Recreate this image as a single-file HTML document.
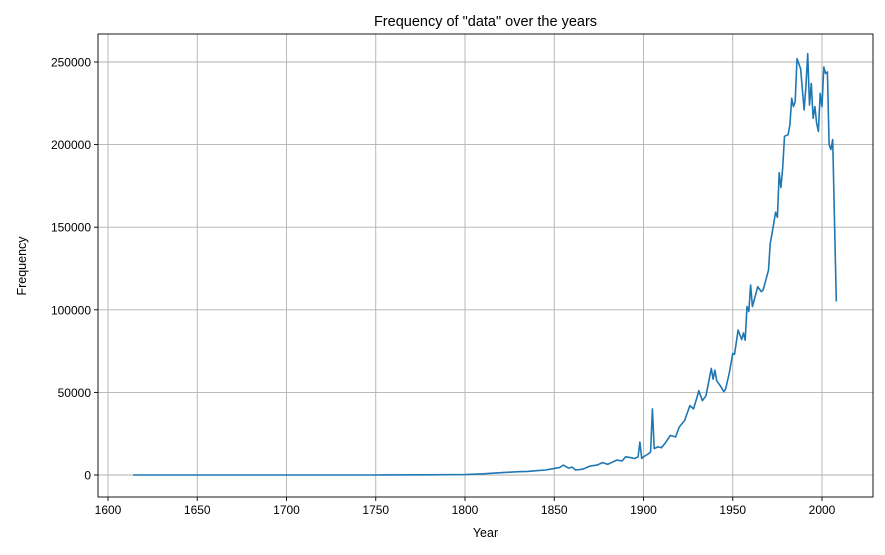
<!DOCTYPE html>
<html><head><meta charset="utf-8"><style>
body{margin:0;background:#fff;font-family:"Liberation Sans","DejaVu Sans",sans-serif;}
</style></head><body>
<svg id="chart" width="885" height="550" viewBox="0 0 885 550" xmlns="http://www.w3.org/2000/svg" font-family="Liberation Sans, DejaVu Sans, sans-serif"></svg>
<script>
const years=[1614,1650,1700,1750,1780,1800,1810,1820,1825,1830,1835,1840,1845,1850,1853,1855,1858,1860,1862,1866,1870,1874,1877,1880,1885,1888,1890,1893,1895,1897,1898,1899,1900,1903,1904,1905,1906,1908,1910,1912,1915,1918,1920,1923,1926,1928,1930,1931,1933,1935,1938,1939,1940,1941,1943,1945,1946,1948,1950,1951,1953,1955,1956,1957,1958,1959,1960,1961,1963,1964,1966,1967,1969,1970,1971,1972,1974,1975,1976,1977,1978,1979,1981,1982,1983,1984,1985,1986,1988,1990,1991,1992,1993,1994,1995,1996,1997,1998,1999,2000,2001,2002,2003,2004,2005,2006,2008];
const values=[0,0,0,0,100,300,700,1400,1700,2000,2200,2600,3000,4000,4500,6000,4200,4800,3000,3500,5400,6000,7500,6500,9000,8500,11000,10500,10000,11000,20000,10000,11000,13000,14000,40000,16000,17000,16500,19000,24000,23000,29000,33000,42000,40000,47000,51000,45000,48000,64500,58000,63500,57000,54000,50400,52000,61500,73600,73000,87700,82000,86000,81600,102000,99000,115000,102000,110000,114000,111000,112000,120000,124000,140000,146000,159000,156000,183000,174000,186000,205000,206000,212000,228000,223000,226000,252000,246000,221000,235000,255000,224000,237000,216000,223000,213000,208000,231000,223000,247000,243000,244000,200000,197000,203000,105000];
const yTicks=[0,50000,100000,150000,200000,250000];
const xTicks=[1600,1650,1700,1750,1800,1850,1900,1950,2000];
const NS="http://www.w3.org/2000/svg";
const svg=document.getElementById('chart');
const L=98,R=873,T=34,B=497;
function xs(v){return 108+(v-1600)*(822-108)/400;}
function ys(v){return 475-v*413/250000;}
function mk(tag,attrs,parent){const e=document.createElementNS(NS,tag);for(const k in attrs)e.setAttribute(k,attrs[k]);(parent||svg).appendChild(e);return e;}
const grid=mk('g',{});


xTicks.forEach(t=>{const x=xs(t);
 const l=mk('line',{x1:x,x2:x,y1:T,y2:B,stroke:'#b0b0b0','stroke-width':0.9},grid);
 
 
 mk('line',{x1:x,x2:x,y1:B,y2:B+4,stroke:'#000','stroke-width':0.9});
 const tx=mk('text',{x:x,y:B+17,'text-anchor':'middle','font-size':12,fill:'#000'});tx.textContent=t;
 
 
});
yTicks.forEach(t=>{const y=ys(t);
 const l=mk('line',{x1:L,x2:R,y1:y,y2:y,stroke:'#b0b0b0','stroke-width':0.9},grid);
 
 
 mk('line',{x1:L-4,x2:L,y1:y,y2:y,stroke:'#000','stroke-width':0.9});
 const tx=mk('text',{x:L-7,y:y+4.5,'text-anchor':'end','font-size':12,fill:'#000'});tx.textContent=t;
 
 
});
const d=years.map((y,i)=>(i?'L':'M')+xs(y).toFixed(1)+','+ys(values[i]).toFixed(1)).join('');
const p=mk('path',{d:d,fill:'none',stroke:'#1f77b4','stroke-width':1.6,'stroke-linejoin':'round'});


const fr=mk('rect',{x:L,y:T,width:R-L,height:B-T,fill:'none',stroke:'#000','stroke-width':0.9});


const ti=mk('text',{x:(L+R)/2,y:26,'text-anchor':'middle','font-size':14.5,fill:'#000'});ti.textContent='Frequency of "data" over the years';


const xl=mk('text',{x:(L+R)/2,y:537,'text-anchor':'middle','font-size':12.5,fill:'#000'});xl.textContent='Year';


const yl=mk('text',{x:0,y:0,'text-anchor':'middle','font-size':12.5,fill:'#000',transform:'translate(26,266) rotate(-90)'});yl.textContent='Frequency';


</script>
</body></html>
